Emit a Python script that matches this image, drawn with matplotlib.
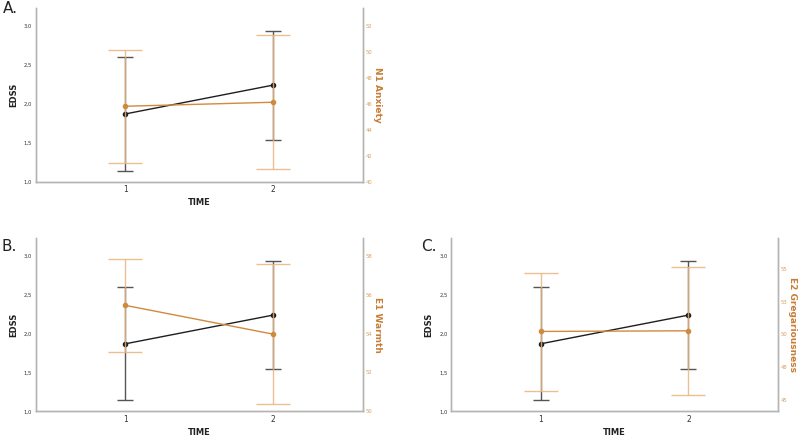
import numpy as np
import matplotlib
matplotlib.use("Agg")
import matplotlib.pyplot as plt
from matplotlib.ticker import FuncFormatter

# shared x categories and EDSS series
time = [1, 2]
edss_mean = [1.87, 2.24]
edss_lo = [1.14, 1.54]
edss_hi = [2.60, 2.94]
edss_ticks = [1.0, 1.5, 2.0, 2.5, 3.0]

# panel A: N1 Anxiety
n1_mean = [45.82, 46.13]
n1_lo = [41.44, 40.98]
n1_hi = [50.18, 51.28]
n1_ticks = [40, 42, 44, 46, 48, 50, 52]
n1_ticklabels = ["40", "42", "44", "46", "48", "50", "52"]

# panel B: E1 Warmth
e1_mean = [55.45, 53.97]
e1_lo = [53.03, 50.36]
e1_hi = [57.85, 57.59]
e1_ticks = [50, 52, 54, 56, 58]
e1_ticklabels = ["50", "52", "54", "56", "58"]

# panel C: E2 Gregariousness
e2_mean = [50.23, 50.28]
e2_lo = [45.66, 45.33]
e2_hi = [54.72, 55.20]
e2_ticks = [45, 47.5, 50, 52.5, 55]
e2_ticklabels = ["45", "48", "50", "53", "55"]

DARK = "#1e1e1e"
DARK_ERR = "#555555"
ORANGE = "#d08a3e"
ORANGE_ERR = "#e9b47f"
ORANGE_TXT = "#c77d35"
SPINE = "#b4b4b4"


def panel(rect, letter, letter_xy, mean2, lo2, hi2, ylim2, ticks2, ticklabels2, label2):
	ax = fig.add_axes(rect)
	ax2 = ax.twinx()

	#EDSS on the left axis
	yerr = [np.array(edss_mean) - np.array(edss_lo), np.array(edss_hi) - np.array(edss_mean)]
	ax.errorbar(time, edss_mean, yerr=yerr, fmt="none", ecolor=DARK_ERR, elinewidth=1.0, capsize=6, capthick=1.0)
	ax.plot(time, edss_mean, color=DARK, lw=1.0, marker="o", ms=3)

	#second scale on the right axis
	yerr2 = [np.array(mean2) - np.array(lo2), np.array(hi2) - np.array(mean2)]
	ax2.errorbar(time, mean2, yerr=yerr2, fmt="none", ecolor=ORANGE_ERR, elinewidth=1.0, capsize=12, capthick=1.0, alpha=0.85)
	ax2.plot(time, mean2, color=ORANGE, lw=1.0, marker="o", ms=3)

	ax.set_xlim(0.393, 2.607)
	ax.set_ylim(1.0, 3.23)
	ax2.set_ylim(*ylim2)

	ax.set_xticks(time)
	ax.set_yticks(edss_ticks)
	ax.yaxis.set_major_formatter(FuncFormatter(lambda v, p: ("%.1f" % v).replace(".", ",")))
	ax2.set_yticks(ticks2)
	ax2.set_yticklabels(ticklabels2)

	ax.tick_params(axis="x", length=0, labelsize=5.5, colors="#333333", pad=2.5)
	ax.tick_params(axis="y", length=0, labelsize=3.8, colors="#333333", pad=2.5)
	ax2.tick_params(axis="y", length=0, labelsize=3.8, colors="#d9a064", pad=2)

	for a in (ax, ax2):
		a.spines["top"].set_visible(False)
		for s in ("left", "right", "bottom"):
			a.spines[s].set_color(SPINE)
			a.spines[s].set_linewidth(1.0)

	ax.set_xlabel("TIME", fontsize=6, fontweight="bold", color="#222222", labelpad=3)
	ax.set_ylabel("EDSS", fontsize=6, fontweight="bold", color="#222222", labelpad=4)
	ax2.set_ylabel(label2, fontsize=6.5, fontweight="bold", color=ORANGE_TXT, rotation=270, labelpad=7)

	fig.text(letter_xy[0], letter_xy[1], letter, fontsize=11, color="#222222", va="top", ha="left")
	return ax, ax2


fig = plt.figure(figsize=(8, 4.37), dpi=100)

panel([0.0446, 0.5842, 0.40875, 0.3975], "A.", (0.004, 0.998),
	n1_mean, n1_lo, n1_hi, (40, 53.4), n1_ticks, n1_ticklabels, "N1 Anxiety")
panel([0.0446, 0.0588, 0.40875, 0.3959], "B.", (0.002, 0.452),
	e1_mean, e1_lo, e1_hi, (50, 58.9), e1_ticks, e1_ticklabels, "E1 Warmth")
panel([0.5638, 0.0588, 0.40875, 0.3959], "C.", (0.527, 0.452),
	e2_mean, e2_lo, e2_hi, (44.1, 57.38), e2_ticks, e2_ticklabels, "E2 Gregariousness")

fig.savefig("out.png", dpi=100)
